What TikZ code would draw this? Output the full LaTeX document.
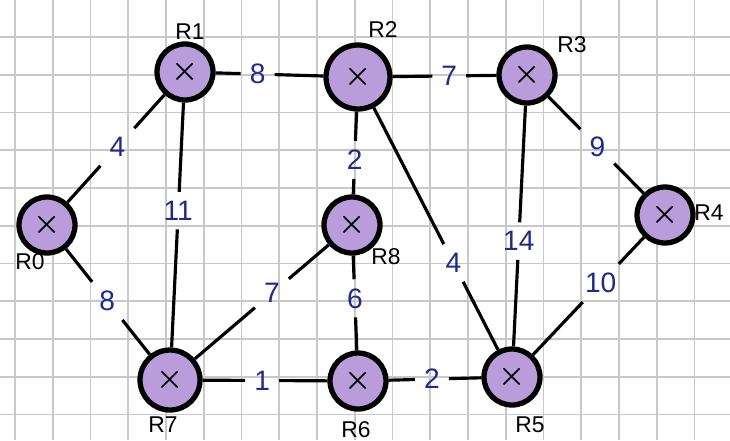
\documentclass[tikz,border=0pt]{standalone}
\usepackage{fontspec}
\setmainfont{Liberation Sans}
\usetikzlibrary{calc}

\definecolor{lilac}{HTML}{B99DDB}
\definecolor{ink}{HTML}{1E2A8C}
\definecolor{gridgray}{HTML}{C8C8C8}

\begin{document}
\begin{tikzpicture}[
  x=0.02cm,y=-0.02cm,
  router/.style={circle,draw=black,line width=3pt,fill=lilac,
    minimum size=1.12cm,inner sep=0pt,font=\LARGE\boldmath},
  rname/.style={font=\fontsize{13}{15}\selectfont,text=black},
  wt/.style={font=\fontsize{16}{18}\selectfont,text=ink,inner sep=5pt},
  link/.style={line width=1.8pt,black},
  gridline/.style={gridgray,line width=0.9pt}
]

% Paper and grid
\useasboundingbox[fill=white] (0,0) rectangle (730,440);
\foreach \i in {0,...,18}
  \draw[gridline] ({15+37.75*\i},0) -- ({15+37.75*\i},440);
\foreach \j in {0,...,10}
  \draw[gridline] (0,{37+37.75*\j}) -- (730,{37+37.75*\j});

% Routers
\node[router] (R0) at (47,225) {$\times$};
\node[router] (R1) at (185,72) {$\times$};
\node[router,minimum size=1.28cm] (R2) at (358,77) {$\times$};
\node[router] (R3) at (527,75) {$\times$};
\node[router] (R4) at (665,215) {$\times$};
\node[router] (R5) at (512,377) {$\times$};
\node[router] (R6) at (358,381) {$\times$};
\node[router,minimum size=1.2cm] (R7) at (170,380) {$\times$};
\node[router] (R8) at (352,225) {$\times$};

% Router names
\node[rname] (n0) at (30,262) {R0};
\node[rname] (n1) at (190,32) {R1};
\node[rname] (n2) at (383,30) {R2};
\node[rname] (n3) at (572,45) {R3};
\node[rname] (n4) at (709,213) {R4};
\node[rname] (n5) at (530,425) {R5};
\node[rname] (n6) at (356,430) {R6};
\node[rname] (n7) at (163,425) {R7};
\node[rname] (n8) at (386,257) {R8};

% Weights
\node[wt] (w01) at ($(R0)!0.51!(R1)$) {4};
\node[wt] (w07) at ($(R0)!0.49!(R7)$) {8};
\node[wt] (w12) at ($(R1)!0.42!(R2)$) {8};
\node[wt] (w17) at ($(R1)!0.45!(R7)$) {11};
\node[wt] (w23) at ($(R2)!0.54!(R3)$) {7};
\node[wt] (w28) at ($(R2)!0.56!(R8)$) {2};
\node[wt] (w25) at ($(R2)!0.62!(R5)$) {4};
\node[wt] (w34) at ($(R3)!0.51!(R4)$) {9};
\node[wt] (w35) at ($(R3)!0.55!(R5)$) {14};
\node[wt] (w45) at ($(R4)!0.42!(R5)$) {10};
\node[wt] (w78) at ($(R7)!0.56!(R8)$) {7};
\node[wt] (w86) at ($(R8)!0.47!(R6)$) {6};
\node[wt] (w76) at ($(R7)!0.49!(R6)$) {1};
\node[wt] (w65) at ($(R6)!0.48!(R5)$) {2};

% Links
\draw[link] (R0) -- (w01) -- (R1);
\draw[link] (R0) -- (w07) -- (R7);
\draw[link] (R1) -- (w12) -- (R2);
\draw[link] (R1) -- (w17) -- (R7);
\draw[link] (R2) -- (w23) -- (R3);
\draw[link] (R2) -- (w28) -- (R8);
\draw[link] (R2) -- (w25) -- (R5);
\draw[link] (R3) -- (w34) -- (R4);
\draw[link] (R3) -- (w35) -- (R5);
\draw[link] (R4) -- (w45) -- (R5);
\draw[link] (R7) -- (w78) -- (R8);
\draw[link] (R8) -- (w86) -- (R6);
\draw[link] (R7) -- (w76) -- (R6);
\draw[link] (R6) -- (w65) -- (R5);

\end{tikzpicture}
\end{document}
